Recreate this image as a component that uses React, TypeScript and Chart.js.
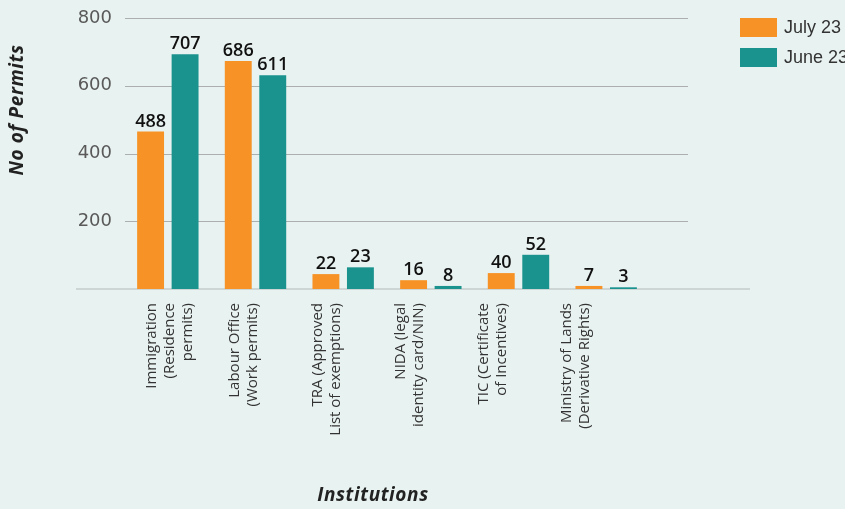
import React, { useEffect, useRef } from "react";
import { Chart, registerables } from "chart.js";
Chart.register(...registerables);

const categories: string[][] = [
  ["Immigration", "(Residence", "permits)"],
  ["Labour Office", "(Work permits)"],
  ["TRA (Approved", "List of exemptions)"],
  ["NIDA (legal", "identity card/NIN)"],
  ["TIC (Certificate", "of Incentives)"],
  ["Ministry of Lands", "(Derivative Rights)"],
];
const seriesNames = ["July 23", "June 23"];
const seriesColors = ["#F79326", "#1A928E"];
// bar heights as drawn in the picture
const july23Bars = [465, 673, 44, 26, 47, 9];
const june23Bars = [693, 631, 64, 9, 101, 5];
// value labels printed above bars
const july23Labels = ["488", "686", "22", "16", "40", "7"];
const june23Labels = ["707", "611", "23", "8", "52", "3"];
const yMax = 800;
const yStep = 200;
const yTitle = "No of Permits";
const xTitle = "Institutions";

const BG = "#E8F2F0";
const FONT = "'Open Sans', 'DejaVu Sans', sans-serif";

export default function App() {
  const ref = useRef<HTMLCanvasElement | null>(null);
  useEffect(() => {
    if (!ref.current) return;
    const labelSets = [july23Labels, june23Labels];
    const plugin = {
      id: "custom",
      beforeDraw(chart: any) {
        const { ctx, width, height } = chart;
        ctx.save();
        ctx.fillStyle = BG;
        ctx.fillRect(0, 0, width, height);
        ctx.restore();
      },
      beforeDatasetsDraw(chart: any) {
        const { ctx, chartArea } = chart;
        const y = chart.scales.y;
        ctx.save();
        y.ticks.forEach((t: any) => {
          if (t.value === 0) return;
          const py = Math.round(y.getPixelForValue(t.value)) + 0.5;
          ctx.strokeStyle = "#ABAFAE";
          ctx.lineWidth = 1.2;
          ctx.beginPath();
          ctx.moveTo(chartArea.left + 1, py);
          ctx.lineTo(chartArea.right + 38, py);
          ctx.stroke();
        });
        const p0 = y.getPixelForValue(0);
        ctx.strokeStyle = "#CDD6D4";
        ctx.lineWidth = 2;
        ctx.beginPath();
        ctx.moveTo(76, p0);
        ctx.lineTo(chartArea.right + 100, p0);
        ctx.stroke();
        ctx.restore();
      },
      afterDatasetsDraw(chart: any) {
        const { ctx } = chart;
        ctx.save();
        ctx.font = `600 18px ${FONT}`;
        ctx.fillStyle = "#111";
        ctx.textAlign = "center";
        ctx.textBaseline = "bottom";
        chart.data.datasets.forEach((ds: any, di: number) => {
          const meta = chart.getDatasetMeta(di);
          meta.data.forEach((bar: any, i: number) => {
            ctx.fillText(labelSets[di][i], bar.x, bar.y - 1);
          });
        });
        // axis titles
        ctx.font = `italic 700 19px ${FONT}`;
        (ctx as any).letterSpacing = "0.6px";
        ctx.fillStyle = "#222";
        ctx.textAlign = "center";
        ctx.textBaseline = "middle";
        ctx.fillText(xTitle, 373, 496);
        ctx.save();
        ctx.translate(18, 110);
        ctx.rotate(-Math.PI / 2);
        ctx.fillText(yTitle, 0, 0);
        ctx.restore();
        (ctx as any).letterSpacing = "0px";
        // legend
        ctx.font = `18px 'Liberation Sans', Arial, sans-serif`;
        ctx.textAlign = "left";
        ctx.textBaseline = "middle";
        chart.data.datasets.forEach((ds: any, di: number) => {
          const top = 18 + di * 30;
          ctx.fillStyle = ds.backgroundColor;
          ctx.fillRect(740, top, 37, 19);
          ctx.fillStyle = "#333";
          ctx.fillText(ds.label, 784, top + 10);
        });
        ctx.restore();
      },
    };
    const chart = new Chart(ref.current, {
      type: "bar",
      data: {
        labels: categories,
        datasets: [
          { label: seriesNames[0], data: july23Bars, backgroundColor: seriesColors[0], xAxisID: "x" },
          { label: seriesNames[1], data: june23Bars, backgroundColor: seriesColors[1], xAxisID: "x" },
        ],
      },
      options: {
        animation: false,
        responsive: true,
        maintainAspectRatio: false,
        layout: { padding: { top: 18, right: 195, left: 0, bottom: 0 } },
        datasets: { bar: { categoryPercentage: 0.787, barPercentage: 0.78 } },
        plugins: { legend: { display: false }, tooltip: { enabled: false } },
        scales: {
          x: {
            display: false,
          },
          xl: {
            type: "linear",
            position: "bottom",
            offset: false,
            min: -0.337,
            max: 6.0,
            grid: { display: false, drawTicks: false, offset: false },
            border: { display: false },
            afterBuildTicks: (s: any) => {
              s.ticks = categories.map((_, i) => ({ value: i }));
            },
            ticks: {
              minRotation: 90,
              maxRotation: 90,
              padding: 14,
              color: "#333",
              font: { family: FONT, size: 15, lineHeight: 1.2 },
              autoSkip: false,
              callback: (v: any) => categories[v] ?? "",
            },
            afterFit: (s: any) => { s.height = 220; s.paddingLeft = 0; s.paddingRight = 0; },
          },
          y: {
            min: 0,
            max: yMax,
            grid: { display: false, drawTicks: false },
            border: { display: false },
            ticks: {
              stepSize: yStep,
              padding: 12,
              color: "#595959",
              font: { family: "'DejaVu Sans', sans-serif", size: 18 },
              callback: (v: any) => (v === 0 ? "" : String(v)),
            },
            afterFit: (s: any) => { s.width = 124; s.paddingTop = 0; s.paddingBottom = 0; },
          },
        },
      } as any,
      plugins: [plugin],
    });
    return () => chart.destroy();
  }, []);
  return (
    <div style={{ position: "fixed", left: 0, top: 0, width: 845, height: 509, overflow: "hidden", background: BG }}>
      <canvas ref={ref} />
    </div>
  );
}
